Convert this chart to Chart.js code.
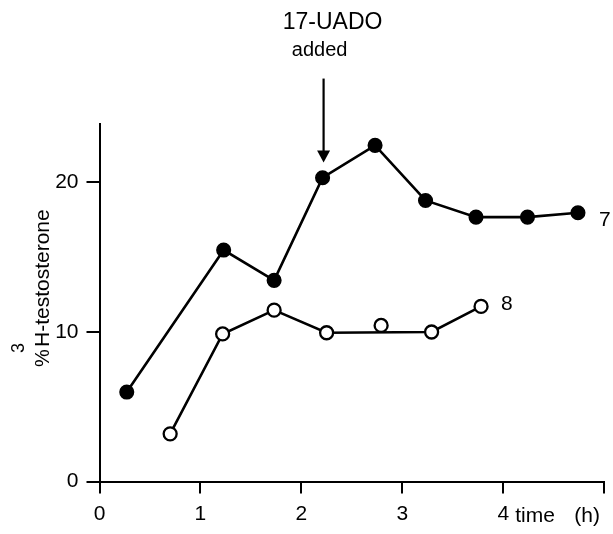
<!DOCTYPE html>
<html>
<head>
<meta charset="utf-8">
<script src="https://cdn.jsdelivr.net/npm/chart.js@4.4.1/dist/chart.umd.min.js"></script>
<style>
  html, body { margin: 0; padding: 0; background: #ffffff; }
  #wrap { width: 613px; height: 534px; }
</style>
</head>
<body>
<div id="wrap"><canvas id="c" width="613" height="534"></canvas></div>
<script>
// ---- data ----
const hours7 = [0.27, 1.23, 1.73, 2.21, 2.73, 3.23, 3.73, 4.24, 4.74];
const pct7   = [5.97, 15.45, 13.43, 20.28, 22.44, 18.76, 17.65, 17.65, 17.94];

const hours8 = [0.70, 1.22, 1.73, 2.25, 3.29, 3.78];
const pct8   = [3.18, 9.85, 11.44, 9.93, 9.98, 11.69];
// open point that lies just above the connecting line (not joined)
const hours8Loose = [2.79];
const pct8Loose   = [10.42];

const xTickValues = [0, 1, 2, 3, 4, 5];
const xTickLabels = ['0', '1', '2', '3', '4', ''];
const yTickValues = [0, 10, 20];
const yTickLabels = ['0', '10', '20'];

const seriesLabels = ['7', '8'];
const xAxisTitle = ['time', '(h)'];
const yAxisTitle = { pre: '%', sup: '3', main: 'H-testosterone' };
const arrowLabel = ['17-UADO', 'added'];
const arrowAt = 2.22;      // hours
const arrowFrom = 26.9;    // % (top of arrow)
const arrowTo = 21.3;      // % (arrow tip)

const FONT = '"Liberation Sans", Arial, sans-serif';

function pts(xs, ys) { return xs.map((x, i) => ({ x: x, y: ys[i] })); }

const annotate = {
  id: 'annotate',
  afterDraw(chart) {
    const ctx = chart.ctx;
    const xs = chart.scales.x, ys = chart.scales.y;
    ctx.save();
    ctx.fillStyle = '#000';
    ctx.strokeStyle = '#000';

    // arrow
    const ax = xs.getPixelForValue(arrowAt);
    const ay1 = ys.getPixelForValue(arrowFrom);
    const ay2 = ys.getPixelForValue(arrowTo);
    ctx.lineWidth = 2.2;
    ctx.beginPath();
    ctx.moveTo(ax, ay1);
    ctx.lineTo(ax, ay2 - 10);
    ctx.stroke();
    ctx.beginPath();
    ctx.moveTo(ax - 6.5, ay2 - 12);
    ctx.lineTo(ax + 6.5, ay2 - 12);
    ctx.lineTo(ax, ay2);
    ctx.closePath();
    ctx.fill();

    // arrow text
    ctx.textAlign = 'center';
    ctx.textBaseline = 'alphabetic';
    ctx.font = '23px ' + FONT;
    ctx.fillText(arrowLabel[0], ax + 9, ay1 - 50);
    ctx.font = '20px ' + FONT;
    ctx.fillText(arrowLabel[1], ax - 4, ay1 - 23);

    // series labels
    ctx.font = '21px ' + FONT;
    ctx.textAlign = 'left';
    ctx.textBaseline = 'middle';
    const l7x = xs.getPixelForValue(hours7[hours7.length - 1]);
    const l7y = ys.getPixelForValue(pct7[pct7.length - 1]);
    ctx.fillText(seriesLabels[0], l7x + 21, l7y + 7);
    const l8x = xs.getPixelForValue(hours8[hours8.length - 1]);
    const l8y = ys.getPixelForValue(pct8[pct8.length - 1]);
    ctx.fillText(seriesLabels[1], l8x + 20, l8y - 2);

    // x axis title
    const t4 = xs.getPixelForValue(4);
    ctx.textBaseline = 'alphabetic';
    ctx.font = '21px ' + FONT;
    ctx.fillText(xAxisTitle[0], t4 + 12, 522);
    ctx.fillText(xAxisTitle[1], t4 + 71, 522);

    // y axis title (rotated)
    ctx.save();
    ctx.translate(chart.chartArea.left - 51, 347);
    ctx.rotate(-Math.PI / 2);
    ctx.textAlign = 'left';
    ctx.textBaseline = 'alphabetic';
    ctx.font = '20px ' + FONT;
    ctx.fillText(yAxisTitle.pre, -20, 0);
    ctx.font = '18px ' + FONT;
    ctx.fillText(yAxisTitle.sup, -6, -25);
    ctx.font = '21px ' + FONT;
    ctx.fillText(yAxisTitle.main, 0, 0);
    ctx.restore();

    ctx.restore();
  }
};

new Chart(document.getElementById('c'), {
  type: 'scatter',
  data: {
    datasets: [
      {
        data: pts(hours7, pct7),
        showLine: true,
        borderColor: '#000',
        borderWidth: 2.6,
        pointRadius: 6.8,
        pointBackgroundColor: '#000',
        pointBorderColor: '#000',
        pointBorderWidth: 1.5
      },
      {
        data: pts(hours8, pct8),
        showLine: true,
        borderColor: '#000',
        borderWidth: 2.6,
        pointRadius: 6.5,
        pointBackgroundColor: '#fff',
        pointBorderColor: '#000',
        pointBorderWidth: 2.3
      },
      {
        data: pts(hours8Loose, pct8Loose),
        showLine: false,
        pointRadius: 6.5,
        pointBackgroundColor: '#fff',
        pointBorderColor: '#000',
        pointBorderWidth: 2.3
      }
    ]
  },
  options: {
    responsive: false,
    devicePixelRatio: 1,
    animation: false,
    layout: { padding: { left: 0, right: 6, top: 123.5, bottom: 0 } },
    plugins: { legend: { display: false }, tooltip: { enabled: false } },
    scales: {
      x: {
        type: 'linear',
        min: 0,
        max: 5,
        afterFit(s) { s.height = 52.5; },
        afterBuildTicks(s) { s.ticks = xTickValues.map(v => ({ value: v })); },
        ticks: {
          color: '#000',
          font: { family: FONT, size: 21 },
          padding: 8,
          maxRotation: 0,
          autoSkip: false,
          callback: (v) => xTickLabels[xTickValues.indexOf(v)]
        },
        grid: { drawOnChartArea: false, drawTicks: true, tickLength: 12, color: '#000', lineWidth: 2 },
        border: { display: true, color: '#000', width: 2 }
      },
      y: {
        type: 'linear',
        min: 0,
        max: 23.9,
        afterFit(s) { s.width = 99.5; },
        afterBuildTicks(s) { s.ticks = yTickValues.map(v => ({ value: v })); },
        ticks: {
          color: '#000',
          font: { family: FONT, size: 21 },
          padding: 8,
          autoSkip: false,
          callback: (v) => yTickLabels[yTickValues.indexOf(v)]
        },
        grid: { drawOnChartArea: false, drawTicks: true, tickLength: 13, color: '#000', lineWidth: 2 },
        border: { display: true, color: '#000', width: 2 }
      }
    }
  },
  plugins: [annotate]
});
</script>
</body>
</html>
